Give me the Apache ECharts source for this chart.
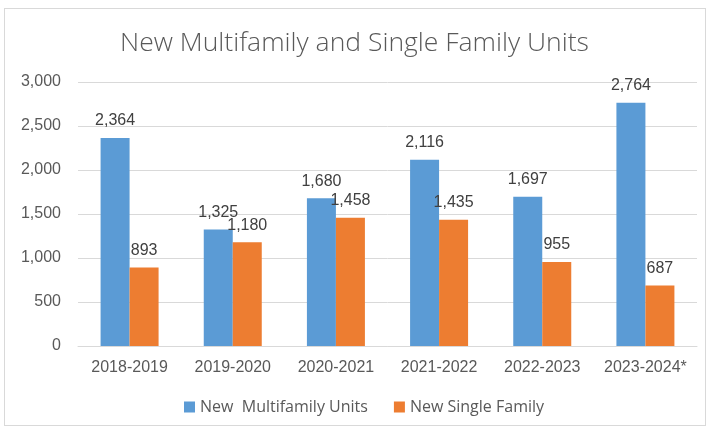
<!DOCTYPE html>
<html><head><meta charset="utf-8">
<script src="https://cdn.jsdelivr.net/npm/echarts@6/dist/echarts.min.js"></script>
<style>
html,body{margin:0;padding:0;background:#fff;}
#frame{position:absolute;left:4px;top:8px;width:702px;height:418px;border:1px solid #d9d9d9;box-sizing:border-box;}
#c{position:absolute;left:0;top:0;width:709px;height:429px;}
</style></head>
<body>
<div id="frame"></div>
<div id="c"></div>
<script>
const categories = ['2018-2019','2019-2020','2020-2021','2021-2022','2022-2023','2023-2024*'];
const multifamily = [2364,1325,1680,2116,1697,2764];
const singleFamily = [893,1180,1458,1435,955,687];
const yTicks = [0,500,1000,1500,2000,2500,3000];
const fmt = v => v.toLocaleString('en-US');
const labelFont = '"Liberation Sans", Arial, sans-serif';
const textFont = '"Open Sans", "Noto Sans", sans-serif';
const chart = echarts.init(document.getElementById('c'), null, {renderer:'canvas'});
chart.setOption({
  animation:false,
  title:{text:'New Multifamily and Single Family Units',left:'center',top:25,
    textStyle:{fontFamily:textFont,fontWeight:300,fontSize:26.5,color:'#595959'}},
  legend:{bottom:9,left:179,itemWidth:11,itemHeight:11,itemGap:26,icon:'rect',
    textStyle:{fontFamily:textFont,fontSize:16,color:'#595959'}},
  grid:{left:78,right:12,top:82,bottom:83,containLabel:false},
  xAxis:{type:'category',data:categories,
    axisLine:{lineStyle:{color:'#d9d9d9'}},axisTick:{show:false},
    axisLabel:{interval:0,fontFamily:labelFont,fontSize:16,color:'#595959',margin:14}},
  yAxis:{type:'value',min:yTicks[0],max:yTicks[yTicks.length-1],interval:500,
    axisLine:{show:false},axisTick:{show:false},
    splitLine:{lineStyle:{color:'#d9d9d9'}},
    axisLabel:{fontFamily:labelFont,fontSize:16,color:'#595959',margin:17,formatter:v=>fmt(v)}},
  series:[
    {name:'New  Multifamily Units',type:'bar',data:multifamily,barWidth:29,barGap:'0%',
     itemStyle:{color:'#5B9BD5'},
     label:{show:true,position:'top',distance:9,fontFamily:labelFont,fontSize:16,color:'#404040',formatter:p=>fmt(p.value)}},
    {name:'New Single Family',type:'bar',data:singleFamily,barWidth:29,
     itemStyle:{color:'#ED7D31'},
     label:{show:true,position:'top',distance:9,fontFamily:labelFont,fontSize:16,color:'#404040',formatter:p=>fmt(p.value)}}
  ]
});
</script>
</body></html>
